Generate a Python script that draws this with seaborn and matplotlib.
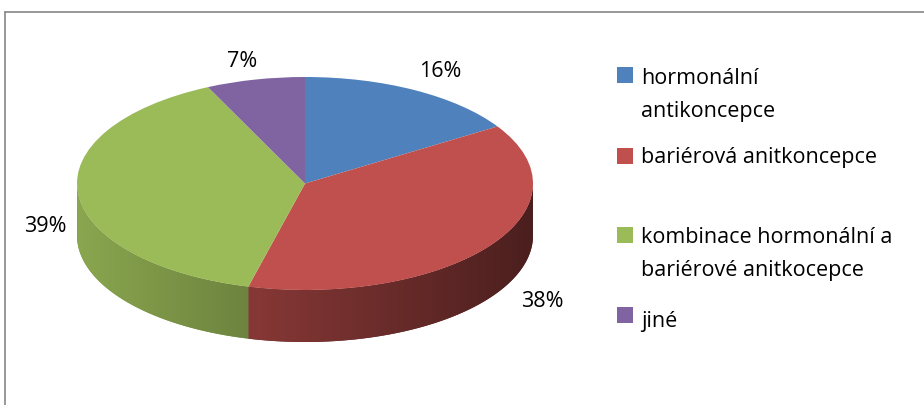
import numpy as np
import matplotlib
matplotlib.use("Agg")
import matplotlib.pyplot as plt
from matplotlib.lines import Line2D
from matplotlib.patches import Rectangle, Polygon
import matplotlib.colors as mcolors
import seaborn as sns

# Data
categories = [
    "hormonální\nantikoncepce",
    "bariérová anitkoncepce",
    "kombinace hormonální a\nbariérové anitkocepce",
    "jiné",
]
shares = [16, 38, 39, 7]
pct_labels = ["16%", "38%", "39%", "7%"]
colors = ["#4F81BD", "#C0504D", "#9BBB59", "#8064A2"]

sns.set_theme(style="white")
plt.rcParams["font.family"] = ["Open Sans", "DejaVu Sans"]
FS = 15.5

W, H = 924, 405
fig = plt.figure(figsize=(W / 100, H / 100), dpi=100)
fig.patch.set_facecolor("white")


def fx(px):
    return px / W


def fy(py):
    return 1 - py / H


# pie axes: top ellipse spans x 77..533, y 77..290; side wall down to 342
depth = 0.488
ax = fig.add_axes([fx(77), fy(342), (533 - 77) / W, (342 - 77) / H])
ax.set_axis_off()

# slice angle ranges (clockwise from 12 o'clock)
fr = np.array(shares, dtype=float) / sum(shares)
ends = 90 - 360 * np.cumsum(fr)
starts = np.concatenate([[90], ends[:-1]])


def shade(x):
    # side wall gets darker towards the right
    return 0.89 - 0.25 * (x + 1)


# gradient image spanning the whole axes, per slice colour
gx = np.linspace(-1, 1, 600)
for i, (s, e) in enumerate(zip(starts, ends)):
    # portion of the slice lying on the front half (angles 180..360)
    lo, hi = e % 360, s % 360
    if hi <= lo:
        hi += 360
    seg_lo, seg_hi = max(lo, 180), min(hi, 360)
    if seg_hi <= seg_lo:
        # try the wrapped range
        seg_lo, seg_hi = max(lo - 360, 180), min(hi - 360, 360)
        if seg_hi <= seg_lo:
            continue
    th = np.radians(np.linspace(seg_lo, seg_hi, 200))
    top = np.column_stack([np.cos(th), np.sin(th)])
    bot = np.column_stack([np.cos(th[::-1]), np.sin(th[::-1]) - depth])
    verts = np.vstack([top, bot])
    base = np.array(mcolors.to_rgb(colors[i]))
    xm = np.cos(th).mean()
    outline = Polygon(verts, closed=True, facecolor=np.clip(base * shade(xm), 0, 1),
                      edgecolor="none", zorder=1)
    ax.add_patch(outline)
    img = np.clip(base[None, None, :] * shade(gx)[None, :, None], 0, 1)
    img = np.repeat(img, 2, axis=0)
    im = ax.imshow(img, extent=[-1, 1, -1 - depth, 1], aspect="auto",
                   interpolation="bilinear", zorder=2)
    clip = Polygon(verts, closed=True, transform=ax.transData)
    im.set_clip_path(clip)

# top face
wedges, _ = ax.pie(
    shares, colors=colors, startangle=90, counterclock=False,
    radius=1, wedgeprops=dict(linewidth=0, antialiased=True),
)
for w in wedges:
    w.set_zorder(3)
ax.set_aspect("auto")
ax.set_xlim(-1, 1)
ax.set_ylim(-1 - depth, 1)

# percentage labels (centre x, baseline y in pixels)
label_pos = [(440, 77), (542, 307), (45, 232), (242, 67)]
for (px, py), txt in zip(label_pos, pct_labels):
    fig.text(fx(px), fy(py), txt, ha="center", va="baseline",
             fontsize=FS, color="#000000")

# legend: square plus one or two text lines
square_c = [75, 156, 235, 315]
baselines = [84, 163, 243, 327]
line_gap = 33
for sc, bl, lab, col in zip(square_c, baselines, categories, colors):
    fig.add_artist(Rectangle((fx(617), fy(sc + 8)), 16 / W, 16 / H,
                             transform=fig.transFigure, facecolor=col,
                             edgecolor="none"))
    for k, line in enumerate(lab.split("\n")):
        fig.text(fx(641), fy(bl + k * line_gap), line, ha="left",
                 va="baseline", fontsize=FS, color="#000000")

# chart border (top and left edges visible)
fig.add_artist(Line2D([fx(5), fx(5)], [fy(12), 0], transform=fig.transFigure,
                      color="#868686", linewidth=1.2))
fig.add_artist(Line2D([fx(5), 1], [fy(12), fy(12)], transform=fig.transFigure,
                      color="#868686", linewidth=1.2))

fig.savefig("out.png", dpi=100, facecolor="white")
